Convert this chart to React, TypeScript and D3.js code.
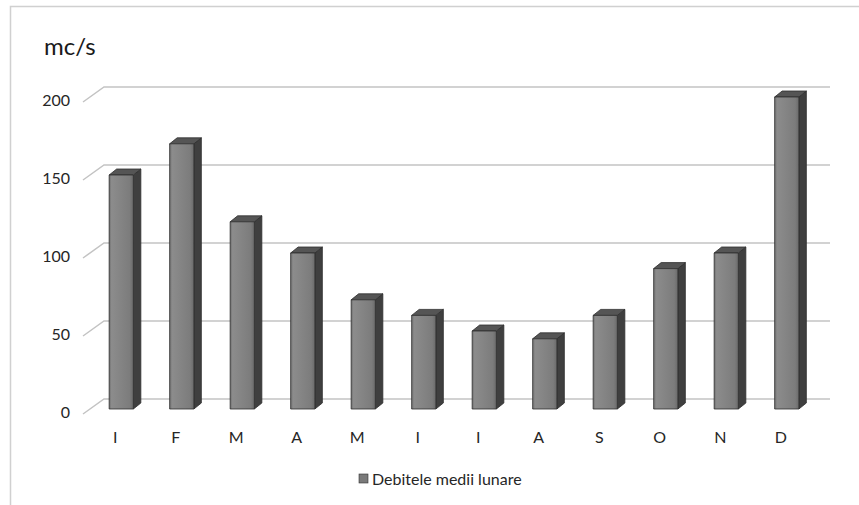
import React from 'react';
import * as d3 from 'd3';

const months = ['I', 'F', 'M', 'A', 'M', 'I', 'I', 'A', 'S', 'O', 'N', 'D'];
const debite = [150, 170, 120, 100, 70, 60, 50, 45, 60, 90, 100, 200];
const yTicks = [0, 50, 100, 150, 200];
const seriesName = 'Debitele medii lunare';
const unitLabel = 'mc/s';

const W = 859;
const H = 505;

// floor front edge / wall depth
const front = { left: 83, right: 809, zero: 414 };
const wallDepth = { dx: 21, dy: -15 };
const barDepth = { dx: 7.5, dy: -6 };
const barShift = { dx: 8, dy: -5 };

const App: React.FC = () => {
  const x = d3.scaleBand<number>()
    .domain(d3.range(months.length))
    .range([front.left, front.right])
    .paddingInner(0.6)
    .paddingOuter(0.3);
  const xLabel = d3.scaleBand<number>()
    .domain(d3.range(months.length))
    .range([front.left, front.right]);

  // value -> height in px
  const h = d3.scaleLinear().domain([0, 200]).range([0, 312]);

  const backY = (v: number) => front.zero + wallDepth.dy - h(v);
  const backX0 = front.left + wallDepth.dx;
  const backX1 = front.right + wallDepth.dx;

  const gridColor = '#c3c3c3';
  const font = 'Lato, "Open Sans", sans-serif';

  return (
    <div style={{ position: 'fixed', left: 0, top: 0, width: W, height: H, background: '#fff' }}>
      <svg width={W} height={H} style={{ display: 'block' }}>
        <defs>
          <linearGradient id="face" x1="0" x2="1" y1="0" y2="0">
            <stop offset="0%" stopColor="#6e6e6e" />
            <stop offset="10%" stopColor="#8c8c8c" />
            <stop offset="85%" stopColor="#7c7c7c" />
            <stop offset="100%" stopColor="#6a6a6a" />
          </linearGradient>
        </defs>
        <rect x={0} y={0} width={W} height={H} fill="#fff" />
        {/* outer border */}
        <path d={`M10.5,${H} V6.5 H${W}`} fill="none" stroke="#d0d0d0" strokeWidth={1.5} />

        {/* gridlines: front diagonal + back wall */}
        {yTicks.map(t => (
          <path
            key={t}
            d={`M${front.left},${front.zero - h(t)} L${backX0},${backY(t)} H${backX1}`}
            fill="none"
            stroke={gridColor}
            strokeWidth={1.5}
          />
        ))}

        {/* y tick labels */}
        {yTicks.map(t => (
          <text
            key={t}
            x={70}
            y={front.zero - h(t) - 2}
            dy="0.35em"
            textAnchor="end"
            fontFamily={font}
            fontSize={16}
            fill="#262626"
          >
            {t}
          </text>
        ))}

        {/* bars */}
        {debite.map((v, i) => {
          const x0 = (x(i) as number) + barShift.dx;
          const bw = x.bandwidth();
          const y0 = front.zero + barShift.dy;
          const yt = y0 - h(v);
          const dx = barDepth.dx;
          const dy = barDepth.dy;
          return (
            <g key={i} stroke="#2e2e2e" strokeWidth={0.8} strokeLinejoin="round">
              <path
                d={`M${x0 + bw},${y0} L${x0 + bw + dx},${y0 + dy} V${yt + dy} L${x0 + bw},${yt} Z`}
                fill="#3f3f3f"
              />
              <path
                d={`M${x0},${yt} L${x0 + dx},${yt + dy} H${x0 + bw + dx} L${x0 + bw},${yt} Z`}
                fill="#555555"
              />
              <rect x={x0} y={yt} width={bw} height={h(v)} fill="url(#face)" />
            </g>
          );
        })}

        {/* x labels */}
        {months.map((m, i) => (
          <text
            key={i}
            x={(xLabel(i) as number) + xLabel.bandwidth() / 2 + 2}
            y={437}
            dy="0.35em"
            textAnchor="middle"
            fontFamily={font}
            fontSize={16}
            fill="#262626"
          >
            {m}
          </text>
        ))}

        {/* axis unit */}
        <text x={44} y={47} dy="0.35em" fontFamily={font} fontSize={24} fill="#1a1a1a">
          {unitLabel}
        </text>

        {/* legend */}
        <rect x={359} y={474} width={9} height={9} fill="#7a7a7a" stroke="#333" strokeWidth={0.6} />
        <text x={372} y={479} dy="0.35em" fontFamily={font} fontSize={16} fill="#262626">
          {seriesName}
        </text>
      </svg>
    </div>
  );
};

export default App;
